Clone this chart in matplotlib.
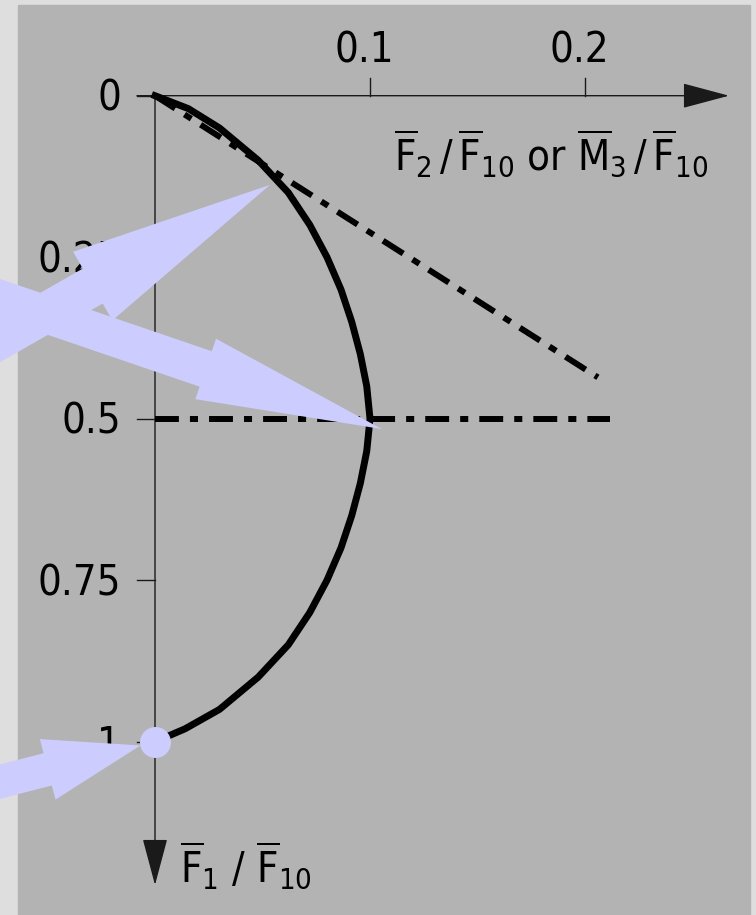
import numpy as np
import matplotlib
matplotlib.use('Agg')
import matplotlib.pyplot as plt
from matplotlib.patches import Rectangle, ArrowStyle

plt.rcParams['font.family'] = ['DejaVu Sans']
plt.rcParams['font.stretch'] = 'condensed'
plt.rcParams['mathtext.fontset'] = 'custom'
plt.rcParams['mathtext.rm'] = 'DejaVu Sans:stretch=condensed'
plt.rcParams['mathtext.it'] = 'DejaVu Sans:italic:stretch=condensed'

# interaction curve, F1/F10 runs down, F2/F10 runs right
f1 = [0, 0.02, 0.05, 0.10, 0.15, 0.20, 0.25, 0.30, 0.35, 0.40, 0.45, 0.50,
      0.55, 0.60, 0.65, 0.70, 0.75, 0.80, 0.85, 0.90, 0.95, 0.98, 1.0]
f2 = [0, 0.0155, 0.030, 0.048, 0.062, 0.072, 0.080, 0.0865, 0.0915, 0.0955, 0.0985, 0.100,
      0.0985, 0.0955, 0.0915, 0.0865, 0.080, 0.072, 0.062, 0.048, 0.030, 0.014, 0]

# tangent from the origin and the line through the peak
tan_f1 = [0, 0.436]
tan_f2 = [0, 0.206]
mid_f1 = [0.5, 0.5]
mid_f2 = [0, 0.2116]

xticks = [0.1, 0.2]
xtick_labels = ['0.1', '0.2']
yticks = [0, 0.25, 0.5, 0.75, 1]
ytick_labels = ['0', '0.25', '0.5', '0.75', '1']

# points the arrows pick out
pick_f2 = [0.0535, 0.1055, 0.0]
pick_f1 = [0.138, 0.516, 1.0]

W, H = 756, 915
OX, OY = 155, 95.7      # origin, pixels from top-left
SX, SY = 2150, 646      # pixels per unit
LAV = '#ccccff'
AX = '#1a1a1a'
FS = 30

fig = plt.figure(figsize=(W / 100, H / 100), dpi=100, facecolor='#dedede')
fig.add_artist(Rectangle((18 / W, 0), (750 - 18) / W, (H - 5) / H,
                         transform=fig.transFigure, color='#b3b3b3', zorder=0))

ax = fig.add_axes([0, 0, 1, 1])
ax.patch.set_alpha(0)
ax.set_xlim(-OX / SX, (W - OX) / SX)
ax.set_ylim((H - OY) / SY, -OY / SY)
ax.axis('off')

# axes with arrow heads
head = ArrowStyle('-|>', head_length=30, head_width=8)
ax.annotate('', xy=((729 - OX) / SX, 0), xytext=(-18 / SX, 0),
            arrowprops=dict(arrowstyle=head, color=AX, lw=1.0, shrinkA=0, shrinkB=0,
                            mutation_scale=1), zorder=2)
ax.annotate('', xy=(0, (885 - OY) / SY), xytext=(0, 0),
            arrowprops=dict(arrowstyle=head, color=AX, lw=1.0, shrinkA=0, shrinkB=0,
                            mutation_scale=1), zorder=2)

for t, lab in zip(xticks, xtick_labels):
    ax.plot([t, t], [0, -18 / SY], color=AX, lw=1.0, zorder=2)
    ax.annotate(lab, (t, 0), xytext=(-6, 33), textcoords='offset pixels',
                ha='center', va='baseline', fontsize=FS)
for t, lab in zip(yticks, ytick_labels):
    ax.plot([-18 / SX, 0], [t, t], color=AX, lw=1.0, zorder=2)
    ax.annotate(lab, (0, t), xytext=(-34, -15), textcoords='offset pixels',
                ha='right', va='baseline', fontsize=FS)

ax.text((708 - OX) / SX, (170 - OY) / SY,
        r'$\overline{\mathrm{F}}_2\,/\,\overline{\mathrm{F}}_{10}$ or '
        r'$\overline{\mathrm{M}}_3\,/\,\overline{\mathrm{F}}_{10}$',
        ha='right', va='baseline', fontsize=FS)
ax.text((180 - OX) / SX, (882 - OY) / SY,
        r'$\overline{\mathrm{F}}_1$ / $\overline{\mathrm{F}}_{10}$',
        ha='left', va='baseline', fontsize=FS)

dd = (4.0, 1.85, 1.35, 1.85)
ax.plot(tan_f2, tan_f1, color='k', lw=4.3, dashes=dd, zorder=3)
ax.plot(mid_f2, mid_f1, color='k', lw=4.3, dashes=dd, zorder=3)
ax.plot(f2, f1, color='k', lw=5, zorder=4, solid_joinstyle='round')

ax.plot(pick_f2[2], pick_f1[2], 'o', ms=22.3, color=LAV, mec='none', zorder=6)

# tails run off the left edge
tails = [(-310, -177), (-422, 144), (-194, -50)]
shapes = [(147, 57, 29), (134, 46, 27), (69, 45, 24)]
shrink = [0, 0, 10.8]
for x, y, off, (hl, hw, tw), sb in zip(pick_f2, pick_f1, tails, shapes, shrink):
    ax.annotate('', xy=(x, y), xytext=off, textcoords='offset pixels',
                arrowprops=dict(arrowstyle=ArrowStyle('simple', head_length=hl,
                                                      head_width=hw, tail_width=tw),
                                color=LAV, lw=0, shrinkA=0, shrinkB=sb,
                                mutation_scale=1),
                annotation_clip=False, zorder=7)

fig.savefig('out.png', dpi=100, facecolor=fig.get_facecolor())
